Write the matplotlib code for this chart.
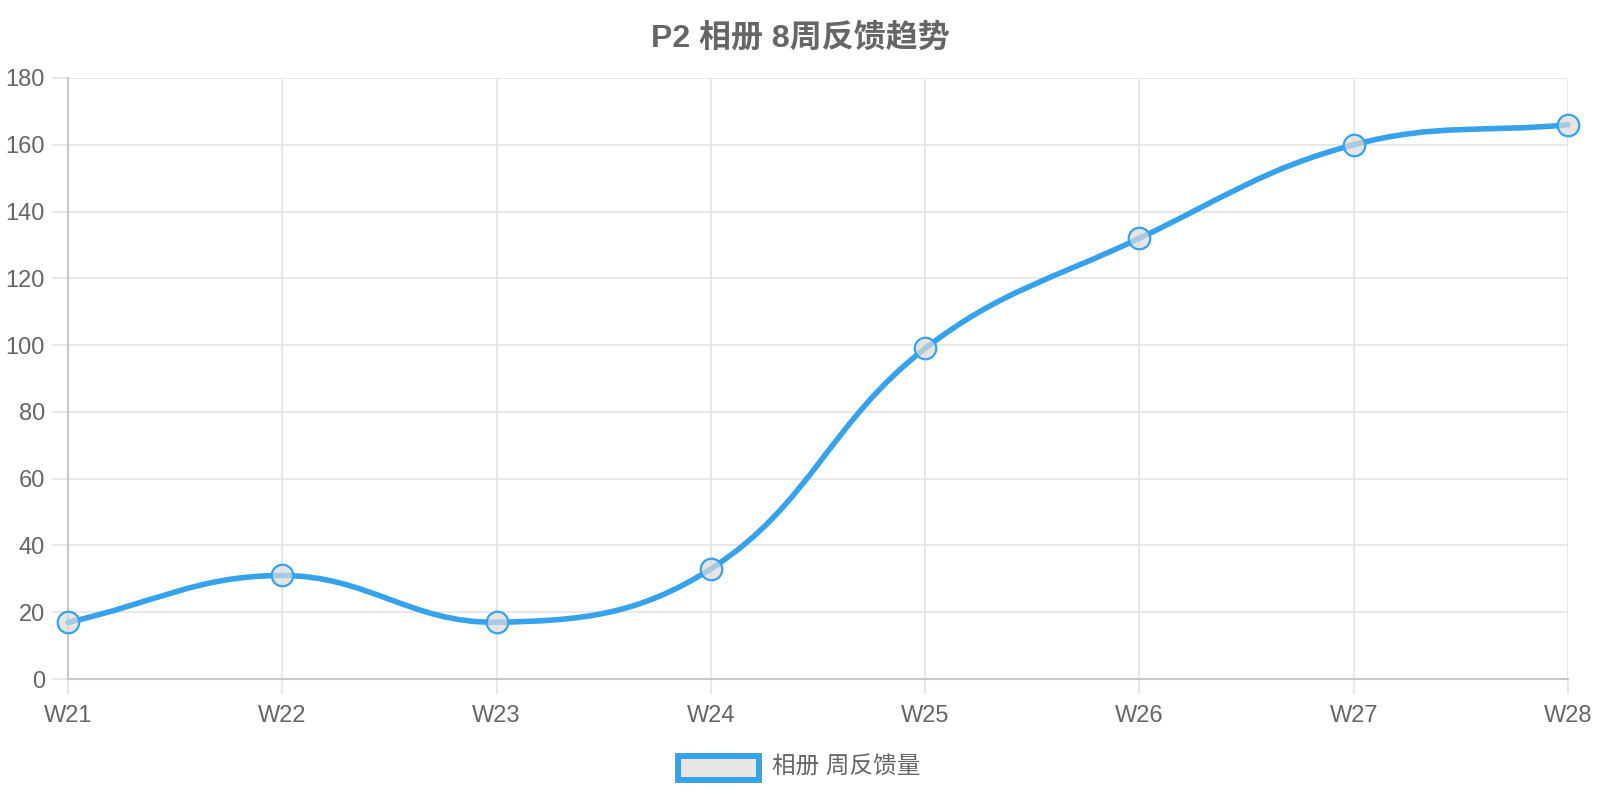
import numpy as np
import matplotlib
matplotlib.use("Agg")
import matplotlib.pyplot as plt
from matplotlib.path import Path
from matplotlib.patches import PathPatch, Rectangle

plt.rcParams['font.family'] = ['Liberation Sans', 'Noto Sans CJK SC', 'DejaVu Sans']

weeks = ["W21", "W22", "W23", "W24", "W25", "W26", "W27", "W28"]
feedback = [17, 31, 17, 33, 99, 132, 160, 166]
title = "P2 相册 8周反馈趋势"
series_name = "相册 周反馈量"

blue = "#36A2EB"
gray_txt = "#666666"

fig = plt.figure(figsize=(16, 8), dpi=100)
# plot area in pixels: x 68..1568, y 78..679
ax = fig.add_axes([68 / 1600, 1 - 679 / 800, 1500 / 1600, 601 / 800])

x = np.arange(len(weeks))
ax.set_xlim(0, len(weeks) - 1)
ax.set_ylim(0, 180)
ax.set_yticks(range(0, 181, 20))
ax.set_xticks(x)
ax.set_xticklabels(weeks)

ax.grid(True, color="#e3e3e3", linewidth=1.2)
for s in ["top", "right"]:
    ax.spines[s].set_visible(False)
for s in ["left", "bottom"]:
    ax.spines[s].set_color("#c8c8c8")
    ax.spines[s].set_linewidth(1.5)
ax.tick_params(axis="both", colors="#e3e3e3", labelcolor=gray_txt, labelsize=17, width=1.2)
ax.tick_params(axis="x", length=11, pad=8)
ax.tick_params(axis="y", length=11.5, pad=5)

# chart.js style bezier smoothing (tension 0.4), computed in pixel space
fig.canvas.draw()
pts = ax.transData.transform(np.column_stack([x, feedback]))
n = len(pts)
ctrl_prev = pts.copy()
ctrl_next = pts.copy()
t = 0.4
for i in range(n):
    p0 = pts[max(i - 1, 0)]
    p1 = pts[i]
    p2 = pts[min(i + 1, n - 1)]
    d01 = np.hypot(*(p1 - p0))
    d12 = np.hypot(*(p2 - p1))
    tot = d01 + d12
    if tot == 0:
        continue
    fa = t * d01 / tot
    fb = t * d12 / tot
    ctrl_prev[i] = p1 - fa * (p2 - p0)
    ctrl_next[i] = p1 + fb * (p2 - p0)

verts = [pts[0]]
codes = [Path.MOVETO]
for i in range(n - 1):
    verts += [ctrl_next[i], ctrl_prev[i + 1], pts[i + 1]]
    codes += [Path.CURVE4] * 3
inv = ax.transData.inverted()
verts = inv.transform(np.array(verts))
curve = PathPatch(Path(verts, codes), facecolor="none", edgecolor=blue,
                  linewidth=4.0, capstyle="round", joinstyle="round", zorder=3)
curve.set_clip_on(False)
ax.add_patch(curve)

ax.plot(x, feedback, linestyle="none", marker="o", markersize=15.5,
        markerfacecolor=(0.86, 0.86, 0.86, 0.7), markeredgecolor=blue,
        markeredgewidth=1.6, zorder=4, clip_on=False)

fig.text(0.5, 1 - 38 / 800, title, ha="center", va="center",
         fontsize=23, fontweight="bold", color=gray_txt)

# legend
fig.patches.append(Rectangle((678 / 1600, 1 - 780 / 800), 81 / 1600, 24 / 800,
                             transform=fig.transFigure, facecolor="#e6e6e6",
                             edgecolor=blue, linewidth=4.3))
fig.text(772 / 1600, 1 - 768 / 800, series_name, ha="left", va="center",
         fontsize=17, color=gray_txt)

fig.savefig("out.png", dpi=100)
